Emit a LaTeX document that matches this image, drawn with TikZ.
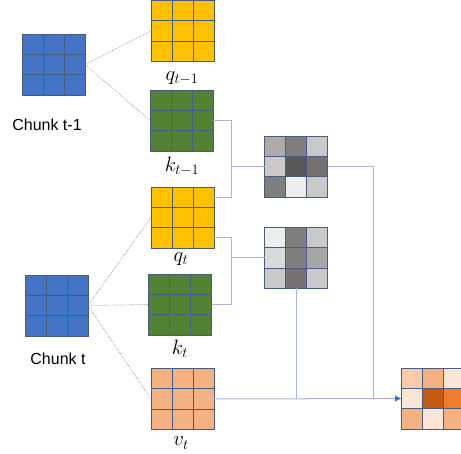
\documentclass[tikz,border=0pt]{standalone}
\usepackage{fontspec}
\setmainfont{Liberation Sans}
\usetikzlibrary{calc,positioning,arrows.meta}

\definecolor{chunkc}{HTML}{4472C4}
\definecolor{qc}{HTML}{FFC000}
\definecolor{kc}{HTML}{548235}
\definecolor{vc}{HTML}{F4B183}
\definecolor{gridc}{RGB}{72,92,130}
\definecolor{linkc}{RGB}{165,183,218}
% grey shades of the score matrices
\definecolor{gA}{HTML}{AEAAAA}
\definecolor{gB}{HTML}{7F7F7F}
\definecolor{gC}{HTML}{C9C9C9}
\definecolor{gD}{HTML}{595959}
\definecolor{gE}{HTML}{757171}
\definecolor{gF}{HTML}{EDEDED}
\definecolor{gG}{HTML}{D9D9D9}
\definecolor{gH}{HTML}{A5A5A5}
% orange shades of the output
\definecolor{oA}{HTML}{F8CBAD}
\definecolor{oB}{HTML}{F4B183}
\definecolor{oC}{HTML}{FBE5D6}
\definecolor{oD}{HTML}{C55A11}
\definecolor{oE}{HTML}{ED7D31}

\tikzset{
  blk/.style={minimum width=63pt,minimum height=61pt,inner sep=0pt,outer sep=0pt},
  gridline/.style={draw=gridc,line width=0.9pt},
  conn/.style={draw=linkc,line width=1pt},
  dots/.style={draw=gray,densely dotted,line width=0.6pt},
  lbl/.style={font=\fontsize{16}{19}\selectfont,inner sep=0pt},
  sym/.style={font=\fontsize{20.5}{24}\selectfont,inner sep=0pt}
}

% 3x3 block: name, centre, nine colours row by row
\newcommand{\mtx}[3]{%
  \node[blk] (#1) at (#2) {};
  \foreach \cc [count=\k from 0] in {#3} {
    \pgfmathtruncatemacro\rr{\k/3}
    \pgfmathtruncatemacro\qq{mod(\k,3)}
    \fill[\cc] ($(#1.north west)+(\qq*21pt,-\rr*20.333pt)$) rectangle ++(21pt,-20.333pt);
  }
  \foreach \k in {1,2} {
    \draw[gridline] ($(#1.north west)+(\k*21pt,0)$) -- ++(0,-61pt);
    \draw[gridline] ($(#1.north west)+(0,-\k*20.333pt)$) -- ++(63pt,0);
  }
  \draw[gridline] (#1.north west) rectangle (#1.south east);
}
\newcommand{\plainmtx}[3]{\mtx{#1}{#2}{#3,#3,#3,#3,#3,#3,#3,#3,#3}}

\begin{document}
\begin{tikzpicture}[x=1pt,y=-1pt]
   \useasboundingbox (0,0) rectangle (461,454);
   \clip (0,0) rectangle (461,454);

   \plainmtx{c1}{53.5,64.5}{chunkc}
   \plainmtx{c2}{56.5,305.5}{chunkc}
   \plainmtx{q1}{182.5,31}{qc}
   \plainmtx{k1}{181.5,120.5}{kc}
   \plainmtx{q2}{182.5,217.5}{qc}
   \plainmtx{k2}{180,304.5}{kc}
   \plainmtx{v2}{182.5,399}{vc}
   \mtx{s1}{296,166.5}{gA,gB,gC,gC,gD,gE,gB,gF,gC}
   \mtx{s2}{296,258}{gF,gB,gC,gG,gB,gH,gC,gE,gC}
   \mtx{out}{432.5,398.5}{oA,oB,oC,oC,oD,oE,oB,oC,oB}

   \node[lbl] (l1) at (47,125) {Chunk t-1};
   \node[lbl] (l2) at (58,359) {Chunk t};
   \node[sym] (lq1) at (182,78) {$q_{t-1}$};
   \node[sym] (lk1) at (182,166) {$k_{t-1}$};
   \node[sym] (lq2) at (181,259) {$q_t$};
   \node[sym] (lk2) at (180,349) {$k_t$};
   \node[sym] (lv2) at (181,443) {$v_t$};

   % projections
   \draw[dots] (c1.east) -- (q1.west);
   \draw[dots] (c1.east) -- (k1.west);
   \draw[dots] (c2.east) -- (q2.west);
   \draw[dots] (c2.east) -- (k2.west);
   \draw[dots] (c2.east) -- (v2.west);

   % score brackets
   \coordinate (qa) at (214,198);
   \coordinate (qb) at (214,238);
   \coordinate (j1) at (231,166.5);
   \coordinate (j2) at (231,258);
   \coordinate (m1) at (373,399);
   \draw[conn] (k1.east) -| (j1 |- qa) -- (qa);
   \draw[conn] (j1) -- (s1.west);
   \draw[conn] (qb) -| (j2 |- k2.east) -- (k2.east);
   \draw[conn] (j2) -- (s2.west);
   \draw[conn] (s1.east) -| (m1);
   \draw[conn] (s2.south) -- (s2.south |- m1);
   \draw[conn,-{Triangle[length=6pt,width=6pt,color=chunkc]}] (v2.east) -- (out.west);
\end{tikzpicture}
\end{document}
